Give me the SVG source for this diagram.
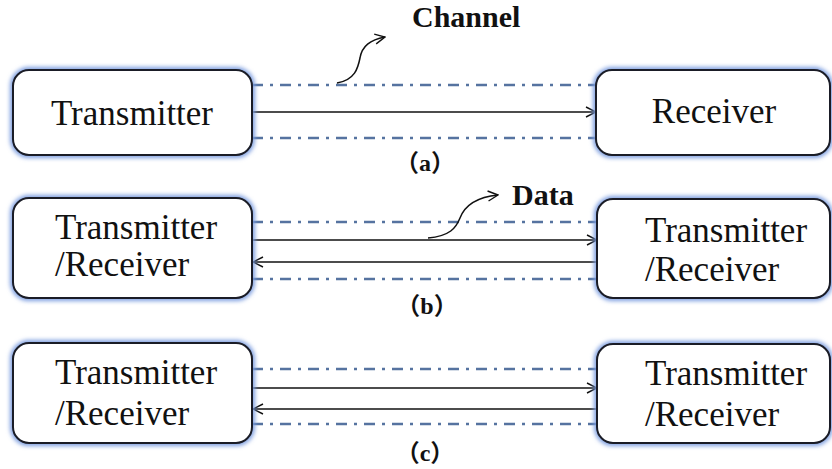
<svg xmlns="http://www.w3.org/2000/svg" width="832" height="469" viewBox="0 0 832 469">
<defs>
<filter id="glow" x="-10%" y="-20%" width="120%" height="140%">
<feGaussianBlur stdDeviation="2.2"/>
</filter>
<marker id="ah" viewBox="0 0 12 12" refX="11" refY="6" markerWidth="12" markerHeight="12" markerUnits="userSpaceOnUse" orient="auto">
<path d="M1,1 L11,6 L1,11" fill="none" stroke="#111" stroke-width="1.4"/>
</marker>
</defs>
<style>
.halo{fill:none;stroke:#7d9ee0;stroke-width:6;filter:url(#glow)}
.box{fill:#fff;stroke:#1a1c26;stroke-width:2}
.lbl{font-size:35px;fill:#111}
.ch{font-size:30px;font-weight:bold;fill:#111}
.cap{font-size:24px;font-weight:bold;fill:#111}
.dd{stroke:#5673a0;stroke-width:2.4;stroke-dasharray:11 7 3 7;fill:none}
.ar{stroke:#111;stroke-width:1.5;fill:none;marker-end:url(#ah)}
.cv{stroke:#111;stroke-width:1.5;fill:none;marker-end:url(#ah)}
</style>

<g id="connectors">
<line class="dd" x1="252" y1="85" x2="597" y2="85"/>
<line class="dd" x1="252" y1="138" x2="597" y2="138"/>
<line class="ar" x1="252" y1="112" x2="596" y2="112"/>
<path class="cv" d="M337,83 C355,80 358,68 360,58 C362,46 370,40 385,37"/>

<line class="dd" x1="252" y1="222" x2="597" y2="222"/>
<line class="dd" x1="252" y1="279" x2="597" y2="279"/>
<line class="ar" x1="252" y1="240" x2="597" y2="240"/>
<line class="ar" x1="597" y1="262" x2="253" y2="262"/>
<path class="cv" d="M428,238 C450,236 456,228 460,218 C465,205 478,197 498,195"/>

<line class="dd" x1="252" y1="369" x2="597" y2="369"/>
<line class="dd" x1="252" y1="424" x2="597" y2="424"/>
<line class="ar" x1="252" y1="388" x2="597" y2="388"/>
<line class="ar" x1="597" y1="409" x2="253" y2="409"/>
</g>

<g font-family="Liberation Serif, serif">
<g id="transmitter-a">
<rect class="halo" x="13" y="70" width="239" height="85" rx="16"/>
<rect class="box" x="13" y="70" width="239" height="85" rx="16"/>
<text class="lbl" x="132" y="125" text-anchor="middle">Transmitter</text>
</g>
<g id="receiver-a">
<rect class="halo" x="596" y="70" width="234" height="85" rx="16"/>
<rect class="box" x="596" y="70" width="234" height="85" rx="16"/>
<text class="lbl" x="714" y="123" text-anchor="middle">Receiver</text>
</g>

<g id="tr-b-left">
<rect class="halo" x="13" y="198" width="239" height="100" rx="16"/>
<rect class="box" x="13" y="198" width="239" height="100" rx="16"/>
<text class="lbl" x="55" y="239">Transmitter</text>
<text class="lbl" x="55" y="276">/Receiver</text>
</g>
<g id="tr-b-right">
<rect class="halo" x="597" y="199" width="233" height="99" rx="16"/>
<rect class="box" x="597" y="199" width="233" height="99" rx="16"/>
<text class="lbl" x="645" y="242">Transmitter</text>
<text class="lbl" x="645" y="281">/Receiver</text>
</g>

<g id="tr-c-left">
<rect class="halo" x="13" y="343" width="239" height="100" rx="16"/>
<rect class="box" x="13" y="343" width="239" height="100" rx="16"/>
<text class="lbl" x="55" y="384">Transmitter</text>
<text class="lbl" x="55" y="425">/Receiver</text>
</g>
<g id="tr-c-right">
<rect class="halo" x="597" y="344" width="233" height="99" rx="16"/>
<rect class="box" x="597" y="344" width="233" height="99" rx="16"/>
<text class="lbl" x="645" y="385">Transmitter</text>
<text class="lbl" x="645" y="426">/Receiver</text>
</g>

<g id="labels">
<text class="ch" x="412" y="27">Channel</text>
<text class="ch" x="512" y="205">Data</text>
<text class="cap" x="425" y="171" text-anchor="middle" font-family="Liberation Serif, Noto Sans CJK SC, serif">（a）</text>
<text class="cap" x="427" y="314" text-anchor="middle" font-family="Liberation Serif, Noto Sans CJK SC, serif">（b）</text>
<text class="cap" x="425" y="461" text-anchor="middle" font-family="Liberation Serif, Noto Sans CJK SC, serif">（c）</text>
</g>
</g>
</svg>
